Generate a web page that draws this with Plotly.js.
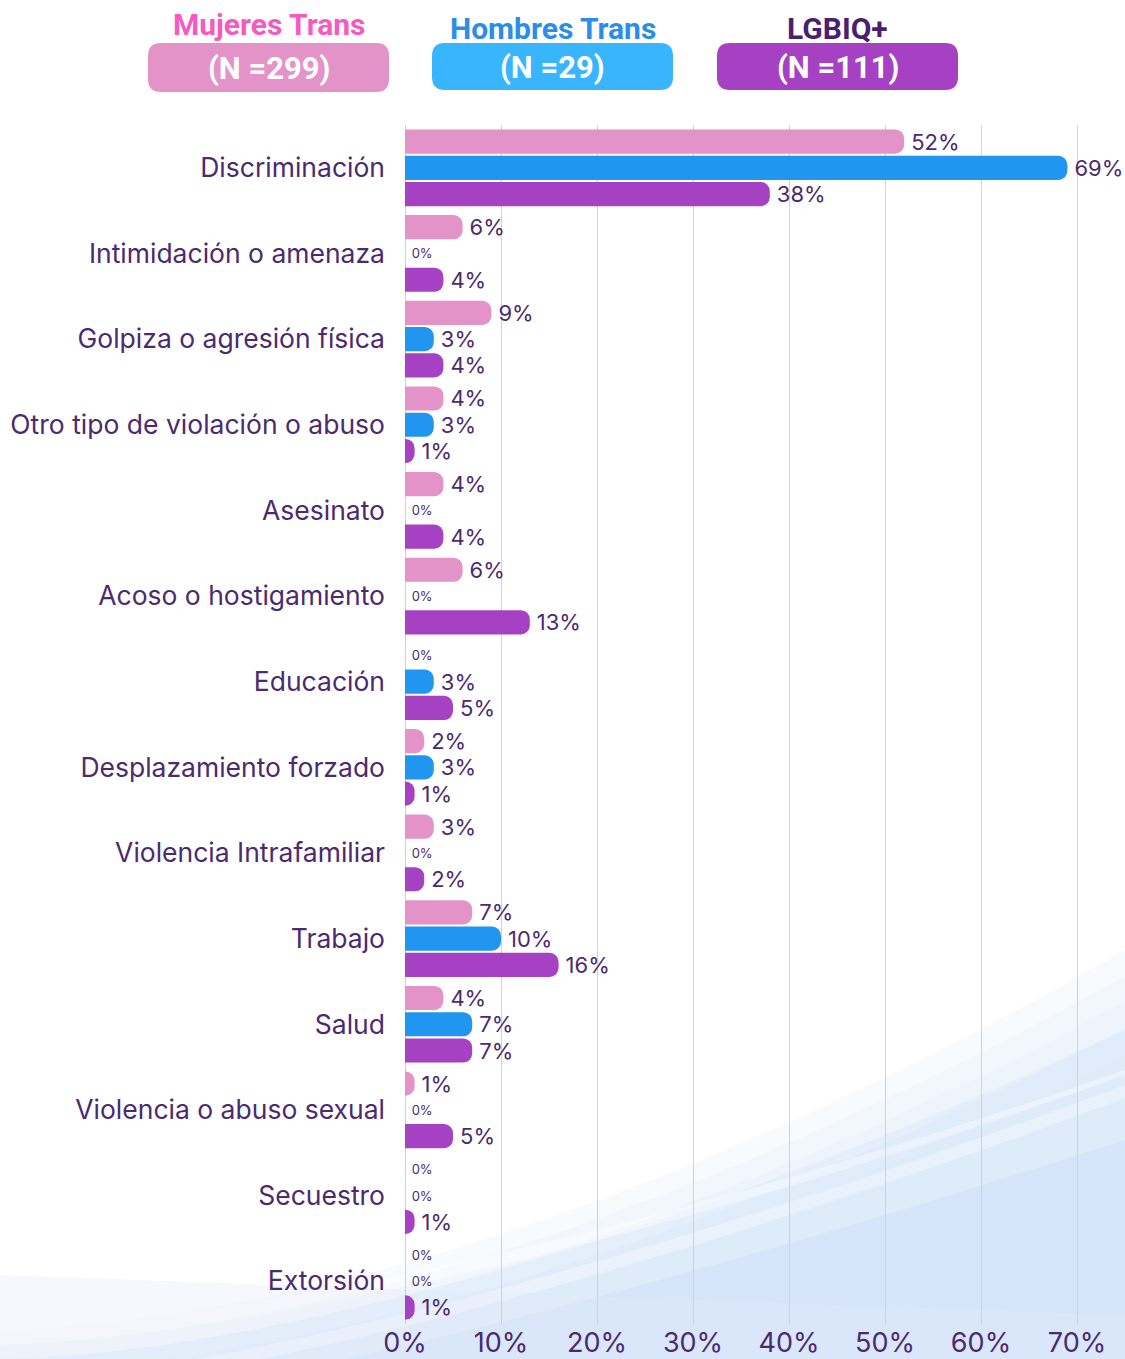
<!DOCTYPE html>
<html>
<head>
<meta charset="utf-8">
<script src="https://cdn.plot.ly/plotly-3.0.1.min.js"></script>
<style>html,body{margin:0;padding:0;background:#fff;}#chart{width:1125px;height:1359px;}</style>
</head>
<body>
<div id="chart"></div>
<script>
const categories = ["Discriminación","Intimidación o amenaza","Golpiza o agresión física","Otro tipo de violación o abuso","Asesinato","Acoso o hostigamiento","Educación","Desplazamiento forzado","Violencia Intrafamiliar","Trabajo","Salud","Violencia o abuso sexual","Secuestro","Extorsión"];
const mujeresTrans = [52,6,9,4,4,6,0,2,3,7,4,1,0,0];
const hombresTrans = [69,0,3,3,0,0,3,3,0,10,7,0,0,0];
const lgbiq = [38,4,4,1,4,13,5,1,2,16,7,5,1,1];
const seriesNames = ["Mujeres Trans","Hombres Trans","LGBIQ+"];
const seriesN = ["(N =299)","(N =29)","(N =111)"];
const tickVals = [0,10,20,30,40,50,60,70];
const tickText = ["0%","10%","20%","30%","40%","50%","60%","70%"];

const colors = ["#e493c8","#2196f0","#a541c2"];
const boxColors = ["#e493c8","#39b5fd","#a541c2"];
const titleColors = ["#f759c0","#2a8de8","#4a1f6e"];
const txtColor = "#4b2a6e";
const FONT = 'Inter, Roboto, sans-serif';

const W = 1125, H = 1359;
const mL = 405, mR = 15, mT = 125, mB = 35;
const pw = W - mL - mR, ph = H - mT - mB;
const px = x => (x - mL) / pw;
const py = y => (H - mB - y) / ph;

function mkTrace(vals, i) {
  return {
    type: 'bar', orientation: 'h', y: categories, x: vals, name: seriesNames[i],
    marker: {color: colors[i], cornerradius: 9},
    text: vals.map(v => (v === 0 ? ' ' : '\u2009') + v + '%'), textposition: 'outside', cliponaxis: false,
    constraintext: 'none',
    textfont: {family: FONT, color: txtColor, size: vals.map(v => v === 0 ? 13 : 22)},
    hoverinfo: 'skip'
  };
}
const data = [mkTrace(mujeresTrans,0), mkTrace(hombresTrans,1), mkTrace(lgbiq,2)];

function roundRect(x0,y0,x1,y1,r){
  const P = (x,y)=> px(x).toFixed(5)+','+py(y).toFixed(5);
  return 'M'+P(x0+r,y0)+' L'+P(x1-r,y0)+' Q'+P(x1,y0)+' '+P(x1,y0+r)+' L'+P(x1,y1-r)+' Q'+P(x1,y1)+' '+P(x1-r,y1)+' L'+P(x0+r,y1)+' Q'+P(x0,y1)+' '+P(x0,y1-r)+' L'+P(x0,y0+r)+' Q'+P(x0,y0)+' '+P(x0+r,y0)+' Z';
}
function poly(pts){
  let s = 'M' + px(pts[0][0]).toFixed(5) + ',' + py(pts[0][1]).toFixed(5);
  for (let i=1;i<pts.length;i++) s += ' L' + px(pts[i][0]).toFixed(5) + ',' + py(pts[i][1]).toFixed(5);
  return s + ' Z';
}
function band(topFn, botFn){
  const pts=[];
  for(let x=-20;x<=1145;x+=15) pts.push([x, topFn(x)]);
  for(let x=1145;x>=-20;x-=15) pts.push([x, botFn(x)]);
  return poly(pts);
}
const t = x => Math.max(0, x) / 1125;

const boxes = [[148,43,389,92],[432,43,673,90],[717,43,958,90]];
const titleY = [24,28,28];
const shapes = [];
function bg(path, color){ shapes.push({type:'path', xref:'paper', yref:'paper', layer:'below', line:{width:0}, fillcolor: color, path}); }
// soft background waves (bottom right), layered for a gradient feel
for (let k = 0; k < 5; k++) {
  bg(band(x => 1330 + k*14 - (380 - k*12)*Math.pow(t(x),1.7), x => 1420), 'rgba(214,228,250,0.16)');
}
bg(band(x => 1360 - 330*Math.pow(t(x),1.6), x => 1420), 'rgba(205,222,248,0.25)');
bg(band(x => 1330 - 260*Math.pow(t(x),1.5), x => 1345 - 270*Math.pow(t(x),1.5)), 'rgba(255,255,255,0.4)');
bg(band(x => 1385 - 300*Math.pow(t(x),1.4), x => 1398 - 300*Math.pow(t(x),1.4)), 'rgba(255,255,255,0.35)');
bg(band(x => 1420 - 280*Math.pow(t(x),1.3), x => 1440), 'rgba(195,215,248,0.3)');
bg(band(x => 1275 + 40*t(x), x => 1420), 'rgba(228,232,250,0.3)');
boxes.forEach((b,i)=>{
  shapes.push({type:'path', xref:'paper', yref:'paper', path: roundRect(b[0],b[1],b[2],b[3],13), fillcolor: boxColors[i], line:{width:0}});
});
const annotations = [];
boxes.forEach((b,i)=>{
  const cx = (b[0]+b[2])/2, cy = (b[1]+b[3])/2;
  annotations.push({xref:'paper', yref:'paper', x:px(cx), y:py(titleY[i]), text:'<b>'+seriesNames[i]+'</b>', showarrow:false,
    xanchor:'center', yanchor:'middle', font:{family:'Roboto, sans-serif', size:30, weight:900, color:titleColors[i]}});
  annotations.push({xref:'paper', yref:'paper', x:px(cx), y:py(cy+1), text:'<b>'+seriesN[i]+'</b>', showarrow:false,
    xanchor:'center', yanchor:'middle', font:{family:'Roboto, sans-serif', size:31, weight:900, color:'#ffffff'}});
});

const layout = {
  width: W, height: H,
  margin: {l: mL, r: mR, t: mT, b: mB, pad: 0},
  paper_bgcolor: '#ffffff', plot_bgcolor: 'rgba(0,0,0,0)',
  barmode: 'group', bargap: 0.08, bargroupgap: 0.08,
  showlegend: false, hovermode: false,
  font: {family: FONT, color: txtColor},
  xaxis: {range: [0, pw/9.6], tickvals: tickVals, ticktext: tickText, showgrid: true, gridcolor: '#d2cfdf', gridwidth: 1,
    zeroline: true, zerolinecolor: '#cfccdc', zerolinewidth: 1, showline: false, ticks: '', fixedrange: true,
    tickfont: {family: FONT, size: 27, color: txtColor}},
  yaxis: {autorange: 'reversed', type: 'category', showgrid: false, zeroline: false, showline: false, ticks: '', ticklen: 0,
    ticklabelstandoff: 19, tickfont: {family: FONT, size: 26.5, color: txtColor}, automargin: false, fixedrange: true},
  shapes: shapes, annotations: annotations
};
Plotly.newPlot('chart', data, layout, {displayModeBar: false, staticPlot: true});
</script>
</body>
</html>
